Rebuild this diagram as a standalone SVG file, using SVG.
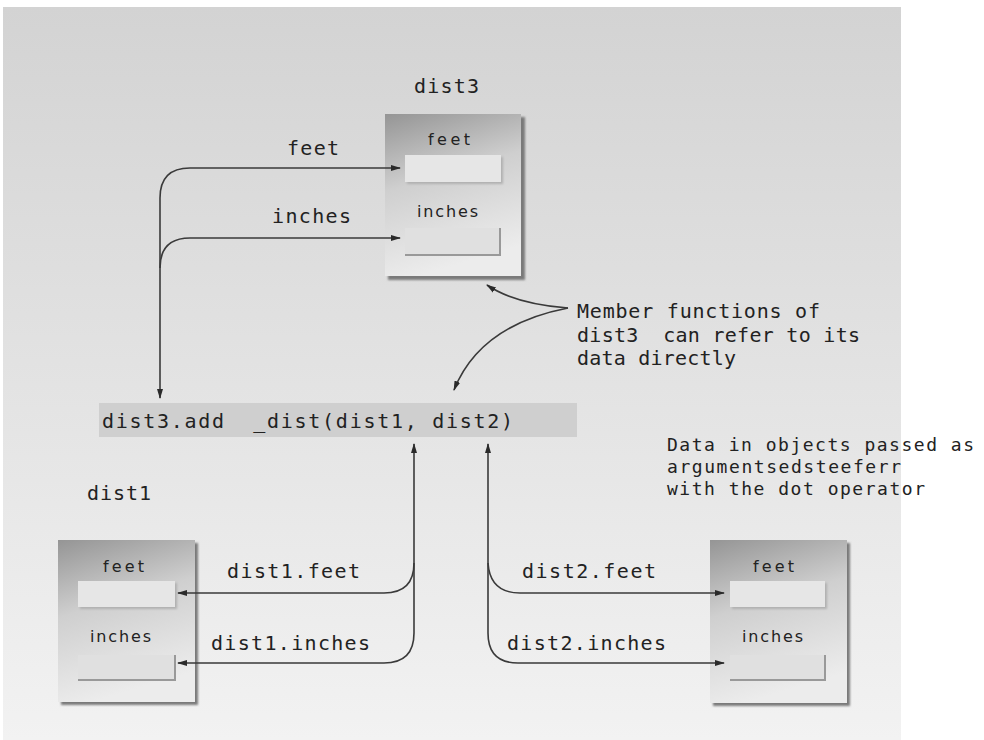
<svg xmlns="http://www.w3.org/2000/svg" width="984" height="740" viewBox="0 0 984 740">
<defs>
<linearGradient id="bg" x1="0" y1="0" x2="0" y2="1">
<stop offset="0" stop-color="#d3d3d3"/>
<stop offset="1" stop-color="#f2f2f2"/>
</linearGradient>
<linearGradient id="boxg" x1="0" y1="0" x2="0.25" y2="1">
<stop offset="0" stop-color="#959595"/>
<stop offset="0.45" stop-color="#cfcfcf"/>
<stop offset="1" stop-color="#ececec"/>
</linearGradient>
<filter id="blur" x="-10%" y="-10%" width="130%" height="130%">
<feGaussianBlur stdDeviation="1.2"/>
</filter>
<marker id="ah" viewBox="0 0 10 10" refX="9" refY="5" markerWidth="10" markerHeight="10" markerUnits="userSpaceOnUse" orient="auto">
<path d="M0,2 L10,5 L0,8 Z" fill="#2a2a2a"/>
</marker>
</defs>
<style>
.mono{font-family:"DejaVu Sans Mono","Liberation Mono",monospace;font-size:20px;fill:#222;white-space:pre}
.small{font-size:18px}
.lbl{font-family:"DejaVu Sans","Liberation Sans",sans-serif;font-size:16px;fill:#222}
.conn{fill:none;stroke:#3a3a3a;stroke-width:1.6}
.box{fill:url(#boxg)}
.shadow{fill:#7a7a7a;filter:url(#blur)}
.field{fill:#e6e6e6}
.fshadow{fill:#b0b0b0;filter:url(#blur)}
.inset{fill:#e0e0e0}
.insetline{fill:none;stroke:#999;stroke-width:2}
</style>
<rect x="3" y="7" width="898" height="733" fill="url(#bg)"/>

<g id="dist3">
<text class="mono" x="414" y="93" textLength="65">dist3</text>
<rect class="shadow" x="388" y="117" width="137" height="163"/>
<rect class="box" x="385" y="114" width="136" height="162"/>
<text class="lbl" x="428" y="145" textLength="42">feet</text>
<rect class="fshadow" x="407" y="157" width="96" height="27"/>
<rect class="field" x="405" y="155" width="96" height="27"/>
<text class="lbl" x="417" y="217" textLength="61">inches</text>
<rect class="inset" x="405" y="228" width="95" height="27"/>
<path class="insetline" d="M405,255 L500,255 L500,228"/>
</g>

<g id="dist1">
<text class="mono" x="87" y="500" textLength="64">dist1</text>
<rect class="shadow" x="61" y="543" width="137" height="162"/>
<rect class="box" x="58" y="540" width="137" height="162"/>
<text class="lbl" x="103" y="572" textLength="41">feet</text>
<rect class="fshadow" x="80" y="583" width="97" height="26"/>
<rect class="field" x="78" y="581" width="97" height="26"/>
<text class="lbl" x="90" y="642" textLength="61">inches</text>
<rect class="inset" x="78" y="655" width="97" height="25"/>
<path class="insetline" d="M78,680 L175,680 L175,655"/>
</g>

<g id="dist2">
<rect class="shadow" x="713" y="543" width="137" height="163"/>
<rect class="box" x="710" y="540" width="137" height="163"/>
<text class="lbl" x="753" y="572" textLength="41">feet</text>
<rect class="fshadow" x="732" y="583" width="95" height="26"/>
<rect class="field" x="730" y="581" width="95" height="26"/>
<text class="lbl" x="742" y="642" textLength="61">inches</text>
<rect class="inset" x="730" y="655" width="95" height="25"/>
<path class="insetline" d="M730,680 L825,680 L825,655"/>
</g>

<g id="call">
<rect x="99" y="403" width="478" height="34" fill="#cfcfcf"/>
<text class="mono" x="102" y="428" textLength="411" xml:space="preserve">dist3.add  _dist(dist1, dist2)</text>
</g>

<g id="note1">
<text class="mono" x="577" y="318" textLength="243">Member functions of</text>
<text class="mono" x="577" y="342" textLength="283" xml:space="preserve">dist3  can refer to its</text>
<text class="mono" x="577" y="365" textLength="159">data directly</text>
</g>

<g id="note2">
<text class="mono small" x="667" y="451" textLength="307">Data in objects passed as</text>
<text class="mono small" x="667" y="473" textLength="234">argumentsedsteeferr</text>
<text class="mono small" x="667" y="495" textLength="258">with the dot operator</text>
</g>

<g id="connector-labels">
<text class="mono" x="287" y="155" textLength="52">feet</text>
<text class="mono" x="272" y="223" textLength="79">inches</text>
<text class="mono" x="227" y="578" textLength="133">dist1.feet</text>
<text class="mono" x="211" y="650" textLength="159">dist1.inches</text>
<text class="mono" x="522" y="578" textLength="134">dist2.feet</text>
<text class="mono" x="507" y="650" textLength="159">dist2.inches</text>
</g>

<g id="connectors">
<path class="conn" d="M160,198 Q160,168 190,168 L400,168" marker-end="url(#ah)"/>
<path class="conn" d="M160,268 Q160,238 190,238 L400,238" marker-end="url(#ah)"/>
<path class="conn" d="M160,198 L160,398" marker-end="url(#ah)"/>
<path class="conn" d="M414,563 Q414,593 384,593 L178,593" marker-end="url(#ah)"/>
<path class="conn" d="M414,633 Q414,663 384,663 L178,663" marker-end="url(#ah)"/>
<path class="conn" d="M414,633 L414,444" marker-end="url(#ah)"/>
<path class="conn" d="M488,563 Q490,593 520,593 L724,593" marker-end="url(#ah)"/>
<path class="conn" d="M488,633 Q488,663 518,663 L724,663" marker-end="url(#ah)"/>
<path class="conn" d="M488,633 L488,444" marker-end="url(#ah)"/>
<path class="conn" d="M568,308 Q515,304 487,285" marker-end="url(#ah)"/>
<path class="conn" d="M568,308 Q480,325 454,390" marker-end="url(#ah)"/>
</g>
</svg>
